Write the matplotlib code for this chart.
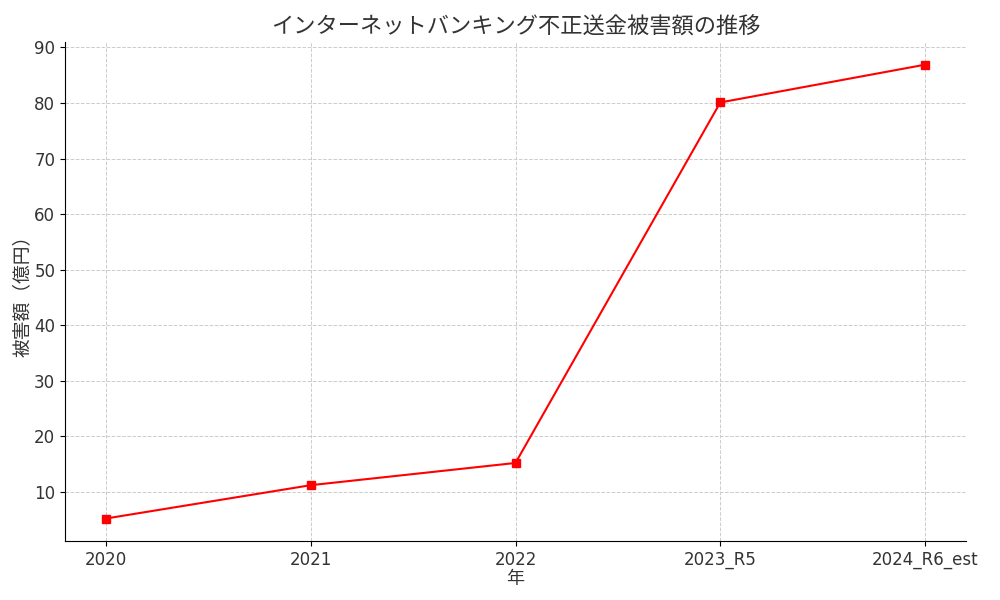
import matplotlib
matplotlib.use("Agg")
import matplotlib.pyplot as plt

years = ["2020", "2021", "2022", "2023_R5", "2024_R6_est"]
damage = [5.2, 11.2, 15.2, 80.1, 86.9]

plt.rcParams['font.family'] = ['DejaVu Sans', 'Noto Sans CJK JP']
cjk = ['Noto Sans CJK JP', 'DejaVu Sans']
txt = '#333333'

fig, ax = plt.subplots(figsize=(10, 6), dpi=100)
ax.plot(years, damage, color='red', marker='s', markersize=6, linewidth=1.5)
ax.set_title('インターネットバンキング不正送金被害額の推移', fontsize=16, color=txt, family=cjk)
ax.set_xlabel('年', fontsize=13, color=txt, family=cjk, labelpad=1)
ax.set_ylabel('被害額（億円）', fontsize=13.5, color=txt, family=cjk, labelpad=1)
ax.tick_params(labelsize=12, labelcolor=txt)
ax.grid(True, linestyle='--', color='#cccccc', linewidth=0.7)
ax.spines['top'].set_visible(False)
ax.spines['right'].set_visible(False)
fig.subplots_adjust(left=0.065, right=0.966, top=0.93, bottom=0.098)
fig.savefig('out.png')
